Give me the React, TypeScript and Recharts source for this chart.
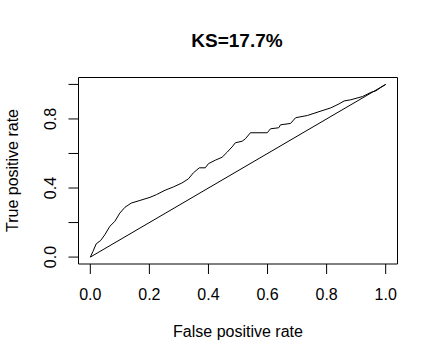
import { LineChart, Line, XAxis, YAxis, ReferenceLine } from 'recharts'

const fpr = [
  0, 0.009, 0.02, 0.035, 0.049, 0.066, 0.083, 0.1, 0.117, 0.139, 0.168, 0.202, 0.224, 0.253,
  0.281, 0.31, 0.332, 0.349, 0.369, 0.389, 0.4, 0.423, 0.446, 0.463, 0.48, 0.491, 0.514,
  0.525, 0.542, 0.599, 0.61, 0.638, 0.644, 0.678, 0.695, 0.735, 0.774, 0.814, 0.842, 0.859,
  0.882, 0.922, 0.95, 0.967, 0.984, 1,
]
const tpr = [
  0, 0.033, 0.077, 0.096, 0.129, 0.178, 0.207, 0.255, 0.288, 0.313, 0.328, 0.346, 0.362, 0.387,
  0.406, 0.429, 0.453, 0.488, 0.517, 0.517, 0.541, 0.561, 0.578, 0.607, 0.638, 0.662, 0.671,
  0.685, 0.72, 0.72, 0.743, 0.749, 0.766, 0.774, 0.807, 0.82, 0.842, 0.864, 0.887, 0.904,
  0.911, 0.93, 0.954, 0.963, 0.983, 1,
]
const diagonalX = [0, 1]
const diagonalY = [0, 1]

const xTicks = [0, 0.2, 0.4, 0.6, 0.8, 1]
const yTicks = [0, 0.2, 0.4, 0.6, 0.8, 1]
const yLabeled = [0, 0.4, 0.8]

const title = 'KS=17.7%'
const xLabel = 'False positive rate'
const yLabel = 'True positive rate'

const FONT = '"Liberation Sans", Arial, sans-serif'

const rocData = fpr.map((x, i) => ({ x, y: tpr[i] }))
const diagData = diagonalX.map((x, i) => ({ x, y: diagonalY[i] }))

function XTick({ x, y, payload }: any) {
  return (
    <text x={x} y={y + 23.5} textAnchor="middle" fontSize={16} fontFamily={FONT} fill="#000">
      {Number(payload.value).toFixed(1)}
    </text>
  )
}

function YTick({ x, y, payload }: any) {
  if (!yLabeled.includes(payload.value)) return <g />
  const bx = x - 10
  return (
    <text
      x={bx}
      y={y}
      transform={`rotate(-90, ${bx}, ${y})`}
      textAnchor="middle"
      fontSize={16}
      fontFamily={FONT}
      fill="#000"
    >
      {Number(payload.value).toFixed(1)}
    </text>
  )
}

export default function App() {
  return (
    <div style={{ position: 'absolute', left: 0, top: 0, width: 438, height: 362, background: '#fff' }}>
      <LineChart width={438} height={362} margin={{ top: 77.5, right: 40.5, bottom: 0, left: 0 }}>
        <XAxis
          type="number"
          dataKey="x"
          domain={[-0.04, 1.04]}
          allowDataOverflow
          ticks={xTicks}
          height={98}
          tickSize={10}
          tickMargin={2}
          stroke="#000"
          tickLine={{ stroke: '#000' }}
          tick={<XTick />}
        />
        <YAxis
          type="number"
          dataKey="y"
          domain={[-0.04, 1.04]}
          allowDataOverflow
          ticks={yTicks}
          width={78.5}
          tickSize={10}
          tickMargin={2}
          stroke="#000"
          tickLine={{ stroke: '#000' }}
          tick={<YTick />}
        />
        <ReferenceLine y={1.04} stroke="#000" strokeWidth={1} />
        <ReferenceLine x={1.04} stroke="#000" strokeWidth={1} />
        <Line
          data={diagData}
          dataKey="y"
          type="linear"
          stroke="#000"
          strokeWidth={1}
          dot={false}
          isAnimationActive={false}
        />
        <Line
          data={rocData}
          dataKey="y"
          type="linear"
          stroke="#000"
          strokeWidth={1}
          dot={false}
          isAnimationActive={false}
        />
      </LineChart>
      <svg width={438} height={362} style={{ position: 'absolute', left: 0, top: 0, pointerEvents: 'none' }}>
        <text x={237} y={47} textAnchor="middle" fontSize={19} fontWeight="bold" fontFamily={FONT} fill="#000">
          {title}
        </text>
        <text x={238} y={337} textAnchor="middle" fontSize={16} fontFamily={FONT} fill="#000">
          {xLabel}
        </text>
        <text
          x={18}
          y={170.5}
          transform="rotate(-90, 18, 170.5)"
          textAnchor="middle"
          fontSize={16}
          fontFamily={FONT}
          fill="#000"
        >
          {yLabel}
        </text>
      </svg>
    </div>
  )
}
